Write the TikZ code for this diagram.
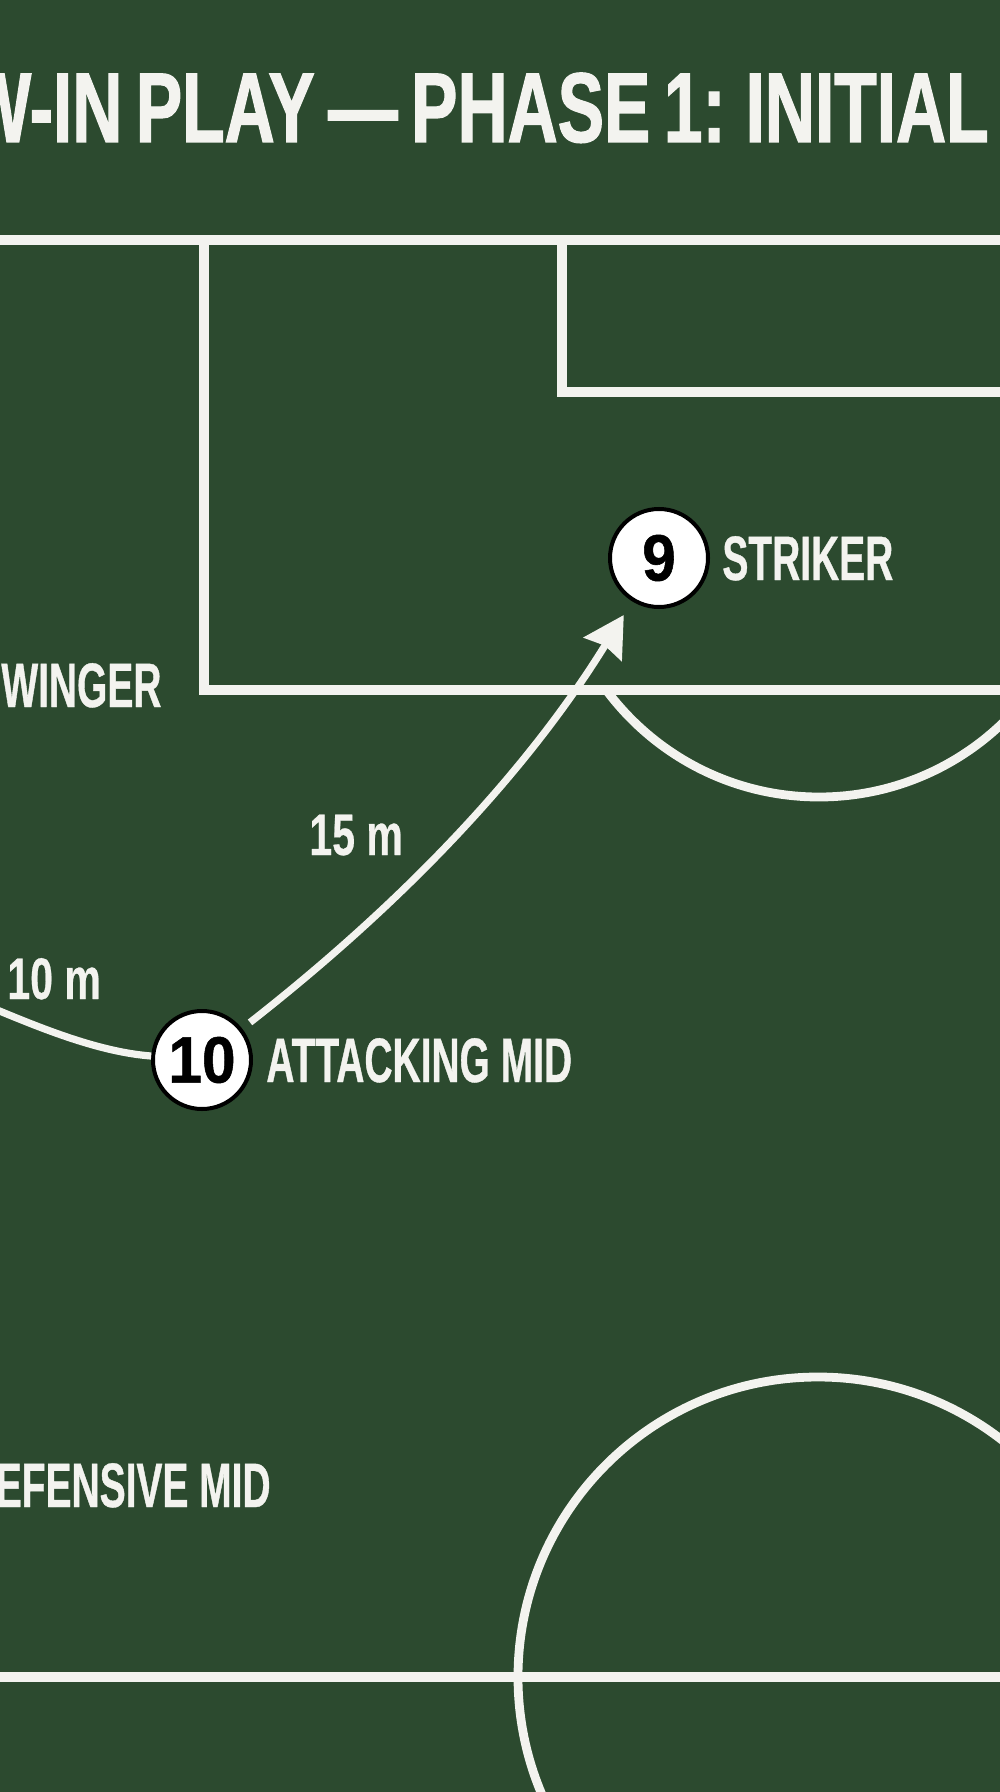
\documentclass[tikz,border=0pt]{standalone}
\usepackage{fontspec}
\usetikzlibrary{arrows.meta}
\setmainfont{Liberation Sans}
\newfontfamily\titlef[FakeStretch=0.70,FakeBold=1.2,WordSpace=0.7]{Liberation Sans Bold}
\newfontfamily\labelf[FakeStretch=0.62,FakeBold=0.6]{Liberation Sans Bold}
\newfontfamily\distf[FakeStretch=0.70,FakeBold=0.4]{Liberation Sans Bold}
\newfontfamily\numf[FakeStretch=0.92,FakeBold=0.8]{Liberation Sans Bold}
\definecolor{pitch}{HTML}{2C4A2F}
\definecolor{chalk}{HTML}{F3F3EF}
\begin{document}
\begin{tikzpicture}[x=0.5pt,y=-0.5pt,
  fieldline/.style={draw=chalk, line width=5pt, line join=miter},
  arcline/.style={draw=chalk, line width=4.4pt},
  pass/.style={draw=chalk, line width=3.6pt},
  passarrow/.style={pass, -{Stealth[length=20pt,width=22pt,inset=2pt]}},
  player/.style={circle, draw=black, line width=2pt, fill=white,
    minimum size=49pt, inner sep=0pt, text=black,
    font=\numf\fontsize{32.8}{33}\selectfont},
  rolelabel/.style={inner sep=0pt, text=chalk, font=\labelf\fontsize{31.4}{32}\selectfont},
  distlabel/.style={inner sep=0pt, text=chalk, font=\distf\fontsize{29.3}{30}\selectfont},
  titlelabel/.style={inner sep=0pt, text=chalk, font=\titlef\fontsize{49.6}{50}\selectfont}
]
\useasboundingbox (0,0) rectangle (1000,1792);
\clip (0,0) rectangle (1000,1792);
\fill[pitch] (0,0) rectangle (1000,1792);

% title
\node[titlelabel, anchor=base east] (title) at (989,142) {W-IN PLAY — PHASE 1: INITIAL};

% pitch markings
\draw[fieldline] (-10,240) -- (1010,240);
\draw[fieldline] (203.5,240) -- (203.5,690) -- (1010,690);
\draw[fieldline] (562,240) -- (562,392) -- (1010,392);
\begin{scope}
  \clip (0,690) rectangle (1000,900);
  \draw[arcline] (819,532) circle[radius=265];
\end{scope}
\draw[fieldline] (-10,1677) -- (1010,1677);
\draw[arcline] (818,1677) circle[radius=300];

% players
\node[player] (n9) at (659,558) {9};
\node[player] (n10) at (202,1060) {10};

% labels
\node[rolelabel, anchor=base west] (lstriker) at (722,580) {STRIKER};
\node[rolelabel, anchor=base west] (lam) at (266,1082) {ATTACKING MID};
\node[rolelabel, anchor=base west] (lwinger) at (1,707) {WINGER};
\node[rolelabel, anchor=base east] (ldm) at (271,1507) {EFENSIVE MID};
\node[distlabel, anchor=base west] (d15) at (309,855) {15 m};
\node[distlabel, anchor=base west] (d10) at (7,999) {10 m};

% passes
\coordinate (cin) at (-10,1007);
\draw[pass] (cin) .. controls (45,1030) and (100,1052) .. (n10);
\draw[passarrow, shorten <=5pt, shorten >=8pt] (n10) .. controls (400,905) and (525,775) .. (n9);
\end{tikzpicture}
\end{document}
